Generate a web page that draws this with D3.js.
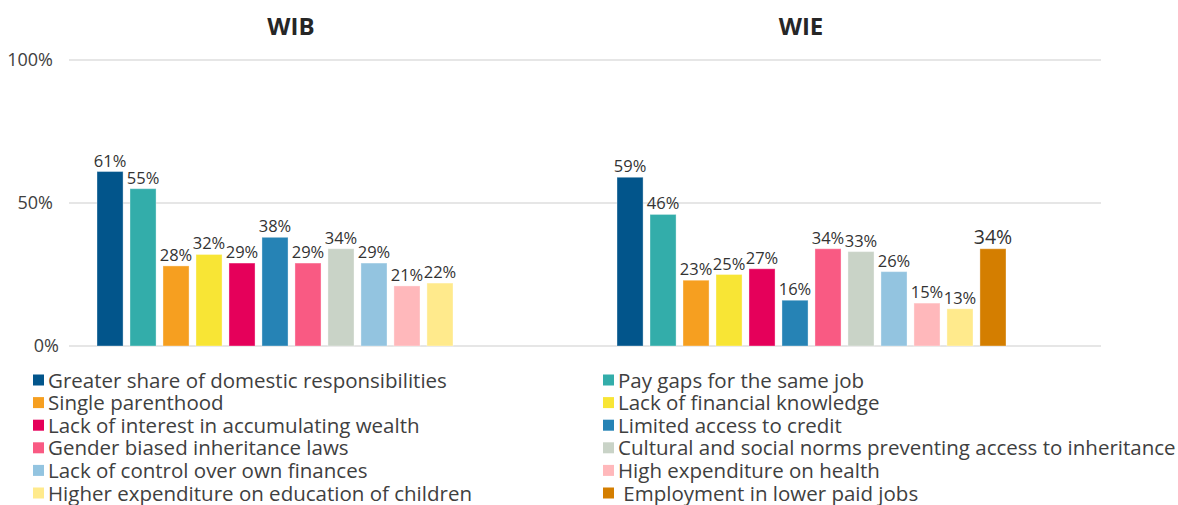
<!DOCTYPE html>
<html>
<head>
<meta charset="utf-8">
<script src="https://cdn.jsdelivr.net/npm/d3@7"></script>
<style>
  html, body { margin: 0; padding: 0; background: #fff; }
  svg { display: block; font-family: "Open Sans", "Noto Sans", sans-serif; }
</style>
</head>
<body>
<svg id="chart" width="1178" height="505"></svg>
<script>
const groups = ["WIB", "WIE"];
const categories = [
  "Greater share of domestic responsibilities",
  "Pay gaps for the same job",
  "Single parenthood",
  "Lack of financial knowledge",
  "Lack of interest in accumulating wealth",
  "Limited access to credit",
  "Gender biased inheritance laws",
  "Cultural and social norms preventing access to inheritance",
  "Lack of control over own finances",
  "High expenditure on health",
  "Higher expenditure on education of children",
  " Employment in lower paid jobs"
];
const colors = ["#02558b", "#33adaa", "#f69f20", "#f8e535", "#e5005a", "#2683b5",
                "#f95a83", "#c9d3c7", "#93c4e0", "#ffb8bb", "#ffea8c", "#d47e00"];
const wibValues = [61, 55, 28, 32, 29, 38, 29, 34, 29, 21, 22, null];
const wieValues = [59, 46, 23, 25, 27, 16, 34, 33, 26, 15, 13, 34];
const yTicks = [0, 50, 100];

const seriesByGroup = { WIB: wibValues, WIE: wieValues };

const svg = d3.select("#chart");

const y = d3.scaleLinear().domain([0, 100]).range([346, 60]);

const x0 = d3.scaleBand().domain(groups).range([97, 1013]).paddingInner(0.2385).paddingOuter(0);
const x1 = d3.scaleBand().domain(categories).range([0, x0.bandwidth() - 7]).paddingInner(0.21).paddingOuter(0);

// gridlines
svg.append("g").selectAll("line").data(yTicks).join("line")
  .attr("x1", 69).attr("x2", 1101)
  .attr("y1", d => y(d)).attr("y2", d => y(d))
  .attr("stroke", "#e6e6e6").attr("stroke-width", 2);

// y axis labels
const yAxis = d3.axisLeft(y).tickValues(yTicks).tickFormat(d => d + "%").tickSize(0).tickPadding(0);
const ya = svg.append("g").attr("transform", "translate(53,0)").call(yAxis);
ya.select(".domain").remove();
ya.selectAll("text").attr("font-size", 18).attr("fill", "#404040")
  .attr("dx", d => d === 0 ? 6 : 0)
  .attr("font-family", "'Open Sans', sans-serif");

// group titles
const titleShift = { WIB: -4, WIE: -14 };
svg.append("g").selectAll("text").data(groups).join("text")
  .attr("x", d => x0(d) + x0.bandwidth() / 2 + titleShift[d])
  .attr("y", 35)
  .attr("text-anchor", "middle")
  .attr("font-size", 24).attr("font-weight", "bold").attr("fill", "#262626")
  .text(d => d);

// bars
groups.forEach(g => {
  const data = categories.map((c, i) => ({ c, i, v: seriesByGroup[g][i] })).filter(d => d.v != null);
  const gg = svg.append("g").attr("transform", `translate(${x0(g)},0)`);
  gg.selectAll("rect").data(data).join("rect")
    .attr("x", d => x1(d.c))
    .attr("width", x1.bandwidth())
    .attr("y", d => y(d.v))
    .attr("height", d => y(0) - y(d.v))
    .attr("fill", d => colors[d.i])
    .attr("stroke", "#ffffff").attr("stroke-opacity", 0.35).attr("stroke-width", 1);
  gg.selectAll("text").data(data).join("text")
    .attr("x", d => x1(d.c) + x1.bandwidth() / 2)
    .attr("y", d => y(d.v) - 5)
    .attr("text-anchor", "middle")
    .attr("font-size", d => (g === "WIE" && d.i === 11) ? 19.5 : 16.5)
    .attr("fill", "#333333")
    .text(d => d.v + "%");
});

// legend
const legend = svg.append("g");
const legItems = legend.selectAll("g").data(categories).join("g")
  .attr("transform", (d, i) => {
    const col = i % 2, row = Math.floor(i / 2);
    return `translate(${col === 0 ? 33 : 603},${380.5 + row * 22.6})`;
  });
legItems.append("rect")
  .attr("x", 0).attr("y", -6).attr("width", 11).attr("height", 11)
  .attr("fill", (d, i) => colors[i]);
legItems.append("text")
  .attr("x", 15).attr("y", 0).attr("dy", "0.35em")
  .attr("font-size", 20.5).attr("fill", "#404040")
  .attr("xml:space", "preserve")
  .style("white-space", "pre")
  .text(d => d);
</script>
</body>
</html>
